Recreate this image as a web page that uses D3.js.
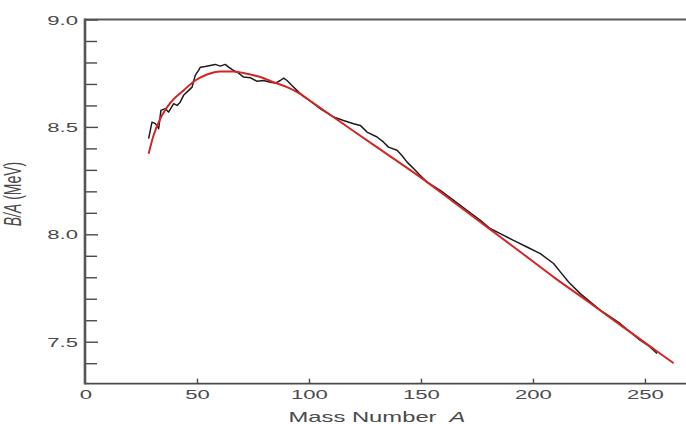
<!DOCTYPE html>
<html>
<head>
<meta charset="utf-8">
<script src="https://cdn.jsdelivr.net/npm/d3@7"></script>
<style>
  html, body { margin: 0; padding: 0; background: #fff; }
  svg { display: block; }
  text { font-family: "Liberation Sans", Arial, sans-serif; fill: #4a4a4a; }
</style>
</head>
<body>
<div id="chart"></div>
<script>
// ── data ───────────────────────────────────────────────────────────────
// measured binding energy per nucleon (black, jagged)
const massMeasured = [28.4, 29.9, 31.4, 32.9, 33.9, 35.8, 37.3, 39.6, 41.1, 42.5,
  44.0, 46.3, 47.8, 49.2, 50.7, 51.5, 53.7, 55.9, 58.2, 60.4,
  62.6, 64.1, 66.3, 68.6, 70.8, 73.8, 76.8, 79.7, 82.7, 85.0,
  87.2, 88.7, 90.2, 92.4, 94.6, 96.9, 99.1, 102.1, 105.0, 108.0,
  111.0, 115.4, 119.9, 122.9, 125.9, 130.4, 133.3, 135.5, 139.3, 141.5,
  143.8, 146.7, 149.7, 152.7, 158.6, 164.6, 170.5, 176.5, 180.9, 185.4,
  191.3, 197.3, 203.3, 209.2, 212.2, 215.9, 221.1, 230.0, 238.9, 247.8,
  252.0, 255.4];
const baMeasured = [8.445, 8.522, 8.515, 8.492, 8.577, 8.585, 8.569, 8.608, 8.600, 8.615,
  8.647, 8.670, 8.685, 8.740, 8.763, 8.778, 8.781, 8.786, 8.791, 8.783,
  8.791, 8.778, 8.763, 8.750, 8.732, 8.729, 8.712, 8.716, 8.708, 8.704,
  8.716, 8.727, 8.716, 8.693, 8.670, 8.647, 8.631, 8.608, 8.585, 8.565,
  8.546, 8.530, 8.515, 8.507, 8.476, 8.453, 8.429, 8.406, 8.391, 8.367,
  8.336, 8.306, 8.274, 8.243, 8.205, 8.158, 8.112, 8.065, 8.027, 8.003,
  7.972, 7.941, 7.910, 7.864, 7.825, 7.778, 7.724, 7.647, 7.585, 7.507,
  7.478, 7.445];

// fitted curve (red, smooth)
const massFit = [28.4, 30.6, 33.6, 38.1, 44.0, 49.2, 54.5, 60.4, 66.3, 72.3,
  78.3, 84.2, 90.2, 96.1, 102.1, 120, 135, 150, 165, 180,
  195, 210, 225, 240, 255, 262.8];
const baFit = [8.375, 8.460, 8.538, 8.612, 8.670, 8.716, 8.744, 8.758, 8.758, 8.747,
  8.732, 8.708, 8.685, 8.654, 8.610, 8.480, 8.372, 8.264, 8.147, 8.030,
  7.913, 7.795, 7.684, 7.570, 7.458, 7.400];

const xTicks  = [0, 50, 100, 150, 200, 250];
const yMajor  = [7.5, 8.0, 8.5, 9.0];
const yMinor  = [7.4, 7.6, 7.7, 7.8, 7.9, 8.1, 8.2, 8.3, 8.4, 8.6, 8.7, 8.8, 8.9];

const W = 686, H = 424;
const STRETCH = 1.7;   // the original type is drawn wide

const svg = d3.select('#chart').append('svg')
  .attr('width', W).attr('height', H);

const x = d3.scaleLinear().domain([0, 268.5]).range([85, 686.4]);
const y = d3.scaleLinear().domain([7.305, 9.0]).range([383.6, 19.5]);

// ── frame lines ──
svg.append('line')
  .attr('x1', x(0)).attr('x2', W).attr('y1', y(9.0)).attr('y2', y(9.0))
  .attr('stroke', '#5a5a5a').attr('stroke-width', 2);

svg.append('line')
  .attr('x1', x(0)).attr('x2', W).attr('y1', y(7.305)).attr('y2', y(7.305))
  .attr('stroke', '#4a4a4a').attr('stroke-width', 1.6);

// ── y axis: minor + major ticks pointing inward ──
const yMinorAxis = d3.axisLeft(y).tickValues(yMinor).tickSize(-12).tickFormat('');
const gYMin = svg.append('g').attr('transform', `translate(${x(0)},0)`).call(yMinorAxis);
gYMin.select('.domain').remove();
gYMin.selectAll('line').attr('stroke', '#4a4a4a').attr('stroke-width', 1.4);

const yMajorAxis = d3.axisLeft(y).tickValues(yMajor).tickSize(-13).tickFormat(d3.format('.1f'));
const gY = svg.append('g').attr('transform', `translate(${x(0)},0)`).call(yMajorAxis);
gY.select('.domain').remove();
gY.selectAll('line').attr('stroke', '#4a4a4a').attr('stroke-width', 1.4);
gY.selectAll('text')
  .attr('x', null).attr('dy', '0.36em')
  .attr('text-anchor', 'end')
  .attr('transform', `translate(-7,0) scale(${STRETCH},1)`)
  .style('font-size', '13px').style('fill', '#4a4a4a');

svg.append('line')
  .attr('x1', x(0)).attr('x2', x(0)).attr('y1', y(9.0) - 1).attr('y2', y(7.305) + 0.8)
  .attr('stroke', '#555').attr('stroke-width', 2.6);

// ── x axis: short ticks pointing up ──
const xAxis = d3.axisBottom(x).tickValues(xTicks.slice(1)).tickSize(-5).tickFormat(d3.format('d'));
const gX = svg.append('g').attr('transform', `translate(0,${y(7.305)})`).call(xAxis);
gX.select('.domain').remove();
gX.selectAll('line').attr('stroke', '#4a4a4a').attr('stroke-width', 1.4);
gX.selectAll('text')
  .attr('y', null).attr('dy', null)
  .attr('transform', `translate(0,15) scale(${STRETCH},1)`)
  .style('font-size', '13px').style('fill', '#4a4a4a');

// the "0" at the origin
svg.append('text')
  .attr('text-anchor', 'middle')
  .attr('transform', `translate(${x(xTicks[0]) + 1},${y(7.305) + 15}) scale(${STRETCH},1)`)
  .style('font-size', '13px')
  .text(d3.format('d')(xTicks[0]));

// ── curves ──
const measured = massMeasured.map((m, i) => [m, baMeasured[i]]);
const fit = massFit.map((m, i) => [m, baFit[i]]);

svg.append('path')
  .datum(measured)
  .attr('fill', 'none')
  .attr('stroke', '#1c1c1c')
  .attr('stroke-width', 1.5)
  .attr('stroke-linejoin', 'round')
  .attr('d', d3.line().x(d => x(d[0])).y(d => y(d[1])));

svg.append('path')
  .datum(fit)
  .attr('fill', 'none')
  .attr('stroke', '#d42424')
  .attr('stroke-width', 2)
  .attr('d', d3.line().curve(d3.curveMonotoneX).x(d => x(d[0])).y(d => y(d[1])));

// ── axis titles ──
const xt = svg.append('text')
  .attr('text-anchor', 'middle')
  .attr('transform', `translate(377,421.5) scale(${STRETCH},1)`)
  .style('font-size', '14px');
xt.append('tspan').text('Mass Number');
xt.append('tspan').attr('dx', '0.55em').style('font-style', 'italic').text('A');

const yt = svg.append('text')
  .attr('text-anchor', 'middle')
  .attr('transform', `translate(21,194) rotate(-90) scale(1,${STRETCH})`)
  .style('font-size', '14px');
yt.append('tspan').style('font-style', 'italic').text('B/A');
yt.append('tspan').text(' (MeV)');
</script>
</body>
</html>
